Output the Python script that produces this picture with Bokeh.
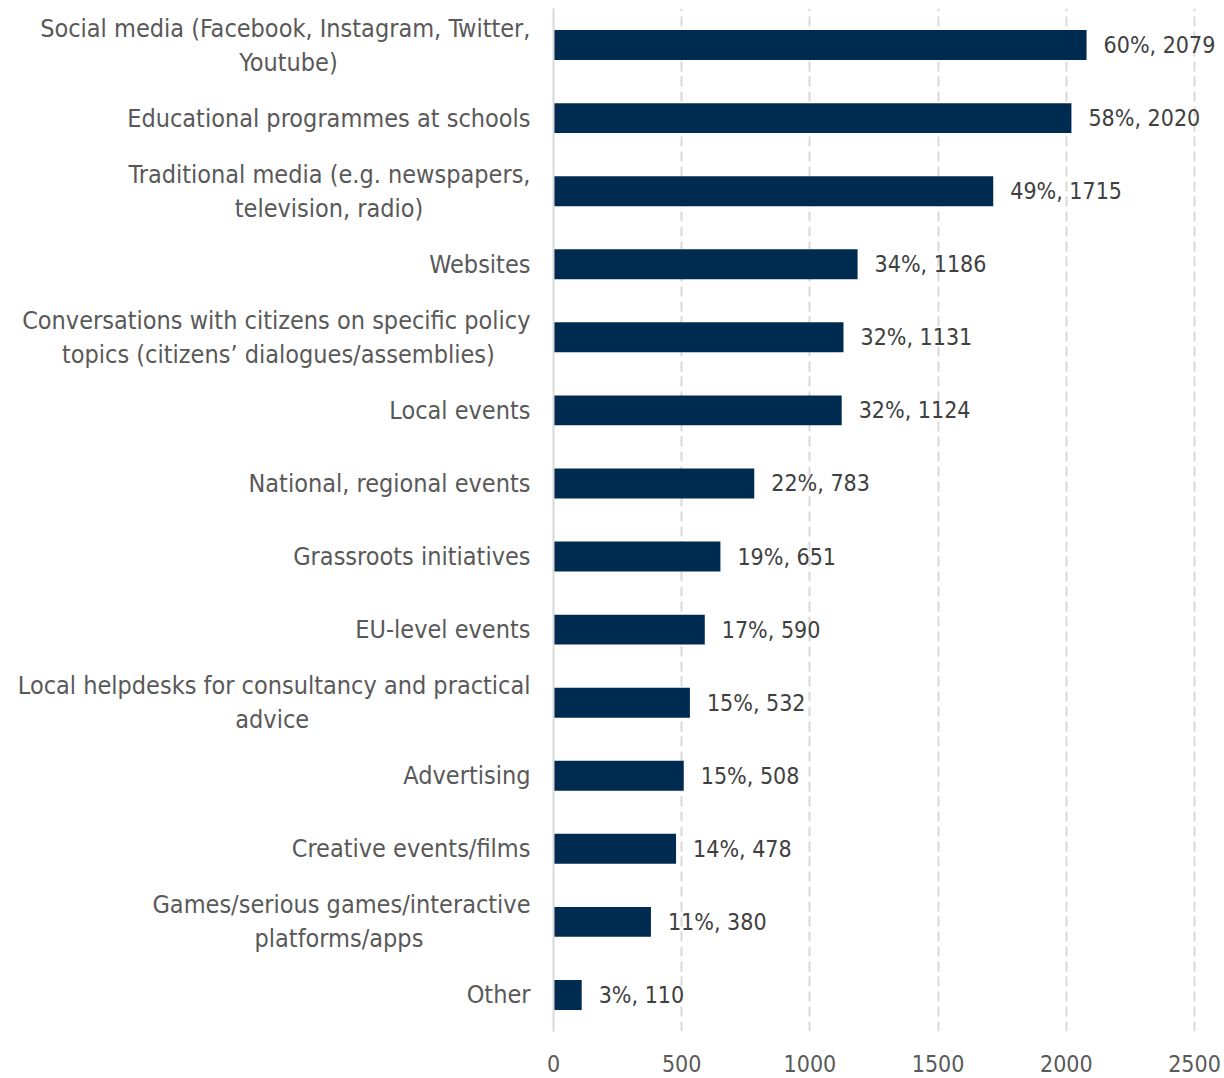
from bokeh.plotting import figure
from bokeh.models import FactorRange, Range1d, FixedTicker, ColumnDataSource
from bokeh.core.properties import value
from bokeh.embed import file_html
from bokeh.resources import INLINE

categories = [
    "Social media (Facebook, Instagram, Twitter,\nYoutube)",
    "Educational programmes at schools",
    "Traditional media (e.g. newspapers,\ntelevision, radio)",
    "Websites",
    "Conversations with citizens on specific policy\ntopics (citizens\u2019 dialogues/assemblies)",
    "Local events",
    "National, regional events",
    "Grassroots initiatives",
    "EU-level events",
    "Local helpdesks for consultancy and practical\nadvice",
    "Advertising",
    "Creative events/films",
    "Games/serious games/interactive\nplatforms/apps",
    "Other",
]
counts = [2079, 2020, 1715, 1186, 1131, 1124, 783, 651, 590, 532, 508, 478, 380, 110]
percents = [60, 58, 49, 34, 32, 32, 22, 19, 17, 15, 15, 14, 11, 3]
x_ticks = [0, 500, 1000, 1500, 2000, 2500]

FONT = "DejaVu Sans Condensed"
FS = "25px"
FS_NUM = "23px"

# styling only: pad the second line of wrapped labels so the lines appear centred
second_line_pad = {0: 27, 2: 15, 4: 5, 9: 31, 12: 15}
display = list(categories)
for i, pad in second_line_pad.items():
    first, second = categories[i].split("\n")
    display[i] = first + "\n" + second + "\u00a0" * pad

labels = [f"{p}%, {c}" for p, c in zip(percents, counts)]
src = ColumnDataSource(dict(cat=display, count=counts, label=labels))

p = figure(
    width=1224, height=1078,
    y_range=FactorRange(factors=list(reversed(display))),
    x_range=Range1d(0, 2617),
    output_backend="svg", toolbar_location=None,
    min_border_left=553, min_border_right=0, min_border_top=8, min_border_bottom=47,
)
p.outline_line_color = None
p.background_fill_color = "white"
p.border_fill_color = "white"

p.hbar(y="cat", right="count", left=0, height=0.41, source=src,
       fill_color="#002b51", line_color=None)

p.text(x="count", y="cat", text="label", source=src, x_offset=17,
       text_align="left", text_baseline="middle",
       text_font=value(FONT), text_font_size=FS_NUM, text_color="#404040")

# x axis
p.xaxis.ticker = FixedTicker(ticks=x_ticks)
p.xaxis.axis_line_color = None
p.xaxis.major_tick_line_color = None
p.xaxis.minor_tick_line_color = None
p.xaxis.major_label_standoff = 17
p.xaxis.major_label_text_font = FONT
p.xaxis.major_label_text_font_size = FS_NUM
p.xaxis.major_label_text_color = "#595959"

# y axis
p.yaxis.axis_line_color = "#d9d9d9"
p.yaxis.axis_line_width = 2
p.yaxis.major_tick_line_color = None
p.yaxis.minor_tick_line_color = None
p.yaxis.major_label_standoff = 17
p.yaxis.major_label_text_font = FONT
p.yaxis.major_label_text_font_size = FS
p.yaxis.major_label_text_color = "#595959"
p.yaxis.major_label_text_line_height = 1.17

p.ygrid.grid_line_color = None
p.xgrid.grid_line_color = "#d9d9d9"
p.xgrid.grid_line_width = 2
p.xgrid.grid_line_dash = "10 5"

open("out.html", "w").write(file_html(p, INLINE))
